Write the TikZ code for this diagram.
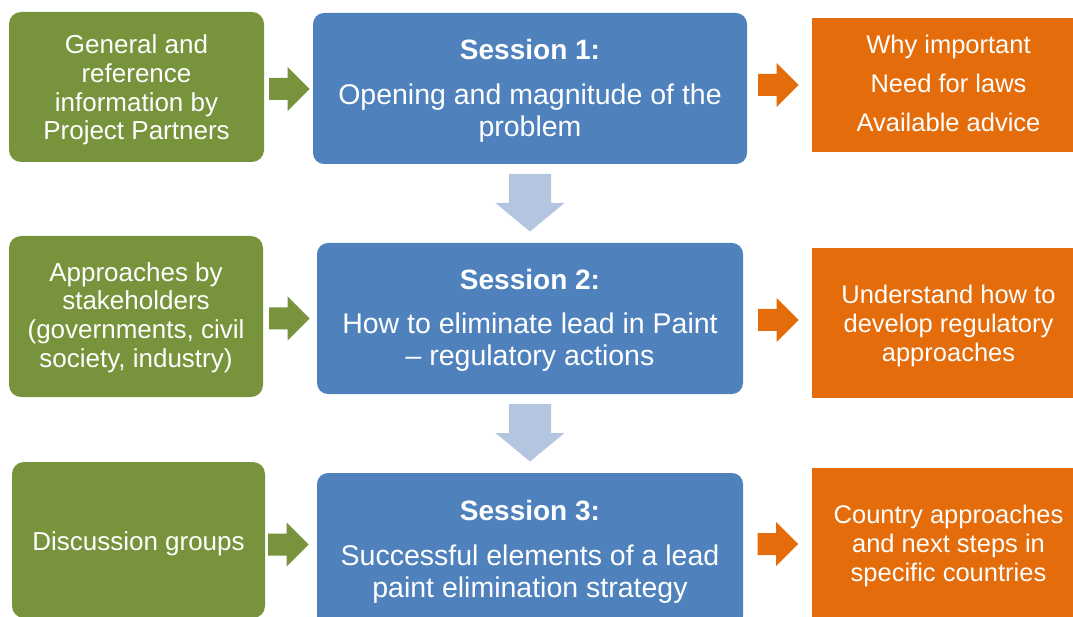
\documentclass[tikz,border=0pt]{standalone}
\usepackage{fontspec}
\setmainfont{Liberation Sans}
\definecolor{boxgreen}{RGB}{119,147,60}
\definecolor{boxblue}{RGB}{79,129,189}
\definecolor{arrowblue}{RGB}{180,197,224}
\definecolor{boxorange}{RGB}{228,108,10}
% invisible strut that lowers a node's text block
\newcommand\topstrut[1]{\rule{0pt}{#1}}
\newcommand\sesstitle[1]{\textbf{\fontsize{28}{32}\selectfont\topstrut{24.5pt}#1}}
% right-pointing block arrow: name, tail x, centre y, colour
\newcommand\rblock[4]{%
  \fill[#4] (#2,#3-11) coordinate (#1) -- ++(18.5,0) -- ++(0,-11) -- (#2+40.5,#3)
    -- (#2+18.5,#3+22) -- ++(0,-11) -- (#2,#3+11) -- cycle;}
% down-pointing block arrow: name, centre x, top y
\newcommand\dblock[3]{%
  \fill[arrowblue] (#2-21,#3) coordinate (#1) -- (#2+21,#3) -- (#2+21,#3+29) -- (#2+34.5,#3+29)
    -- (#2,#3+57.5) -- (#2-34.5,#3+29) -- (#2-21,#3+29) -- cycle;}
\begin{document}
\begin{tikzpicture}[x=1pt,y=-1pt,
  greenbox/.style={fill=boxgreen, rounded corners=12pt, text=white, align=center,
    inner sep=0pt, font=\fontsize{26}{28.8}\selectfont},
  bluebox/.style={fill=boxblue, rounded corners=11pt, text=white, align=center,
    inner sep=0pt, font=\fontsize{28.5}{32}\selectfont},
  orangebox/.style={fill=boxorange, text=white, align=center,
    inner sep=0pt, font=\fontsize{25.5}{29}\selectfont}]
\useasboundingbox (0,0) rectangle (1073,617);
\clip (0,0) rectangle (1073,617);
\fill[white] (0,0) rectangle (1073,617);

% left column
\node[greenbox, minimum width=255, minimum height=150] (g1) at (136.5,87)
  {\topstrut{25pt}General and\\reference\\information by\\Project Partners};
\node[greenbox, minimum width=254, minimum height=161] (g2) at (136,316.5)
  {\topstrut{21pt}Approaches by\\stakeholders\\(governments, civil\\society, industry)};
\node[greenbox, minimum width=253, minimum height=156] (g3) at (138.5,540)
  {Discussion groups\rule[-2pt]{0pt}{28pt}};

% middle column
\node[bluebox, minimum width=434, minimum height=151] (b1) at (530,88.5)
  {\sesstitle{Session 1:}\\[13pt]Opening and magnitude of the\\problem};
\node[bluebox, minimum width=426, minimum height=151] (b2) at (530,318.5)
  {\sesstitle{Session 2:}\\[12pt]How to eliminate lead in Paint\\– regulatory actions};
\node[bluebox, minimum width=426, minimum height=154] (b3) at (530,550)
  {\sesstitle{Session 3:}\\[13pt]Successful elements of a lead\\paint elimination strategy};

% right column
\node[orangebox, minimum width=273, minimum height=134,
  font=\fontsize{25.5}{39}\selectfont] (o1) at (948.5,85)
  {\topstrut{20.6pt}Why important\\Need for laws\\Available advice\vphantom{y}};
\node[orangebox, minimum width=273, minimum height=150] (o2) at (948.5,323)
  {\topstrut{24.6pt}Understand how to\\develop regulatory\\approaches};
\node[orangebox, minimum width=273, minimum height=154] (o3) at (948.5,545)
  {\topstrut{20.6pt}Country approaches\\and next steps in\\specific countries};

% block arrows
\rblock{ga1}{269}{89}{boxgreen}
\rblock{ga2}{269}{318.5}{boxgreen}
\rblock{ga3}{268}{544.5}{boxgreen}
\rblock{oa1}{758}{85}{boxorange}
\rblock{oa2}{758}{320}{boxorange}
\rblock{oa3}{757.5}{544}{boxorange}
\dblock{da1}{530}{174}
\dblock{da2}{530}{404}
\end{tikzpicture}
\end{document}
